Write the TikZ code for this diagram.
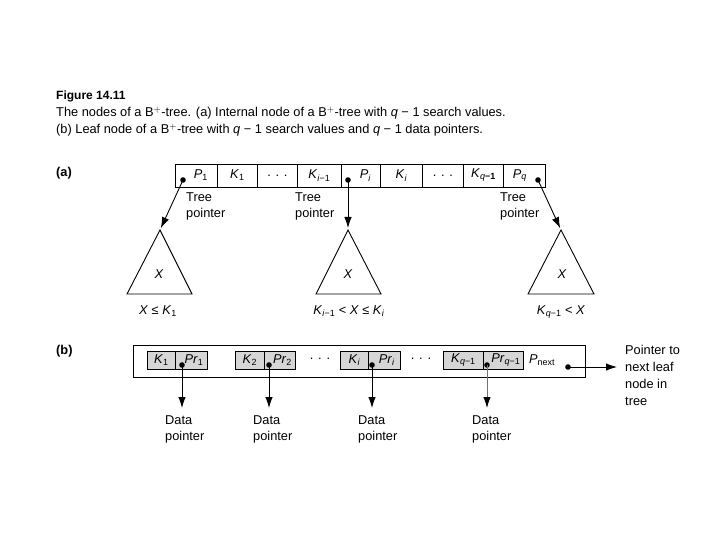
\documentclass[tikz,border=0pt]{standalone}
\usepackage{fontspec}
\setmainfont{Liberation Sans}
\usetikzlibrary{arrows.meta}
\newcommand{\iv}[1]{\textit{#1}}
\newcommand{\sbs}[1]{\textsubscript{#1}}
\begin{document}
\begin{tikzpicture}[x=1pt,y=-1pt,
  every node/.style={font=\fontsize{12.8}{16}\selectfont},
  cell/.style={draw, line width=0.75pt, minimum height=23pt, inner sep=0pt, anchor=west},
  gcell/.style={draw, fill=black!16, line width=0.75pt, minimum height=18pt, inner sep=0pt, anchor=west},
  box/.style={draw, line width=0.95pt, inner sep=0pt},
  dotn/.style={circle, fill, inner sep=0pt, minimum size=5.6pt},
  arr/.style={-{Latex[length=11pt,width=7.5pt,color=black]}, line width=0.9pt},
  lbl/.style={align=left, anchor=north west, inner sep=0pt},
  txt/.style={inner sep=0pt},
  tri/.style={line width=0.9pt}]
\useasboundingbox (0,0) rectangle (720,540);

% caption
\node[txt, anchor=base west, font=\fontsize{12}{16}\selectfont] (fig) at (56,100) {\textbf{Figure 14.11}};
\node[txt, anchor=base west] (cap1) at (56,117) {The nodes of a B$^{+}$-tree. (a) Internal node of a B$^{+}$-tree with \iv{q} − 1 search values.};
\node[txt, anchor=base west] (cap2) at (56,134) {(b) Leaf node of a B$^{+}$-tree with \iv{q} − 1 search values and \iv{q} − 1 data pointers.};

% (a)
\node[txt, anchor=base west] (la) at (56,177) {\textbf{(a)}};
\node[cell, minimum width=42pt] (p1) at (175,175.5) {\hspace*{9pt}\iv{P}\sbs{1}};
\node[cell, minimum width=40pt] (k1) at (217,175.5) {\iv{K}\sbs{1}};
\node[cell, minimum width=40pt] (da) at (257,175.5) {. . .};
\node[cell, minimum width=44pt] (kim) at (297,175.5) {\iv{K}\sbs{\iv{i}−1}};
\node[cell, minimum width=39pt] (pi) at (341,175.5) {\hspace*{9pt}\iv{P}\sbs{\iv{i}}};
\node[cell, minimum width=42pt] (ki) at (380,175.5) {\iv{K}\sbs{\iv{i}}};
\node[cell, minimum width=41pt] (db) at (422,175.5) {. . .};
\node[cell, minimum width=40pt] (kq) at (463,175.5) {\iv{K}\sbs{\iv{q}\textbf{−1}}};
\node[cell, minimum width=42pt] (pq) at (503,175.5) {\iv{P}\sbs{\iv{q}}\hspace*{9pt}};

\node[dotn] (dp1) at (183,180) {};
\node[dotn] (dpi) at (348,180) {};
\node[dotn] (dpq) at (538,180) {};

\coordinate (a1) at (160,230);
\coordinate (a2) at (348,230);
\coordinate (a3) at (561,230);
\draw[tri] (a1) -- (127,294) -- (192,294) -- cycle;
\draw[tri] (a2) -- (316,294) -- (381,294) -- cycle;
\draw[tri] (a3) -- (528,294) -- (594,294) -- cycle;

\draw[arr, shorten >=2pt] (dp1.center) -- (a1);
\draw[arr, shorten >=2pt] (dpi.center) -- (a2);
\draw[arr, shorten >=2pt] (dpq.center) -- (a3);

\node[lbl] (tp1) at (186,192) {Tree\\pointer};
\node[lbl] (tp2) at (295,192) {Tree\\pointer};
\node[lbl] (tp3) at (500,192) {Tree\\pointer};

\node[txt] (x1) at (159,274) {\iv{X}};
\node[txt] (x2) at (348,274) {\iv{X}};
\node[txt] (x3) at (562,274) {\iv{X}};

\node[txt, anchor=base] (c1) at (158,314) {\iv{X} ≤ \iv{K}\sbs{1}};
\node[txt, anchor=base] (c2) at (349,314) {\iv{K}\sbs{\iv{i}−1} < \iv{X} ≤ \iv{K}\sbs{\iv{i}}};
\node[txt, anchor=base] (c3) at (561,314) {\iv{K}\sbs{\iv{q}−1} < \iv{X}};

% (b)
\node[txt, anchor=base west] (lb) at (56,354) {\textbf{(b)}};
\node[box, minimum width=452pt, minimum height=32pt] (leaf) at (359,361) {};
\node[gcell, minimum width=28pt] (bk1) at (147,360) {\iv{K}\sbs{1}};
\node[gcell, minimum width=32pt] (bp1) at (175,360) {\hspace*{5pt}\iv{Pr}\sbs{1}};
\node[gcell, minimum width=29pt] (bk2) at (235,360) {\iv{K}\sbs{2}};
\node[gcell, minimum width=31pt] (bp2) at (264,360) {\hspace*{5pt}\iv{Pr}\sbs{2}};
\node[txt] (bd1) at (320,359) {. . .};
\node[gcell, minimum width=28pt] (bki) at (340,360) {\iv{K}\sbs{\iv{i}}};
\node[gcell, minimum width=32pt] (bpi) at (368,360) {\hspace*{5pt}\iv{Pr}\sbs{\iv{i}}};
\node[txt] (bd2) at (421,359) {. . .};
\node[gcell, minimum width=40pt] (bkq) at (443,360) {\iv{K}\sbs{\iv{q}−1}};
\node[gcell, minimum width=40pt] (bpq) at (483,360) {\hspace*{5pt}\iv{Pr}\sbs{\iv{q}−1}};
\node[txt] (pnext) at (542,360) {\iv{P}\sbs{next}};

\node[dotn] (e1) at (182,365) {};
\node[dotn] (e2) at (269,365) {};
\node[dotn] (e3) at (372,365) {};
\node[dotn] (e4) at (487,365) {};
\node[dotn] (en) at (568,367) {};

\node[lbl] (dl1) at (165,415) {Data\\pointer};
\node[lbl] (dl2) at (253,415) {Data\\pointer};
\node[lbl] (dl3) at (358,415) {Data\\pointer};
\node[lbl] (dl4) at (472,415) {Data\\pointer};
\coordinate (t1) at (182,408);
\coordinate (t2) at (269,408);
\coordinate (t3) at (372,408);
\coordinate (t4) at (487,408);
\draw[arr] (e1.center) -- (t1);
\draw[arr] (e2.center) -- (t2);
\draw[arr] (e3.center) -- (t3);
\draw[arr, draw=black!55] (e4.center) -- (t4);

\node[lbl, font=\fontsize{12.8}{17}\selectfont] (ptn) at (625,345) {Pointer to\\next leaf\\node in\\tree};
\coordinate (tn) at (617,367);
\draw[arr] (en.center) -- (tn);
\end{tikzpicture}
\end{document}
